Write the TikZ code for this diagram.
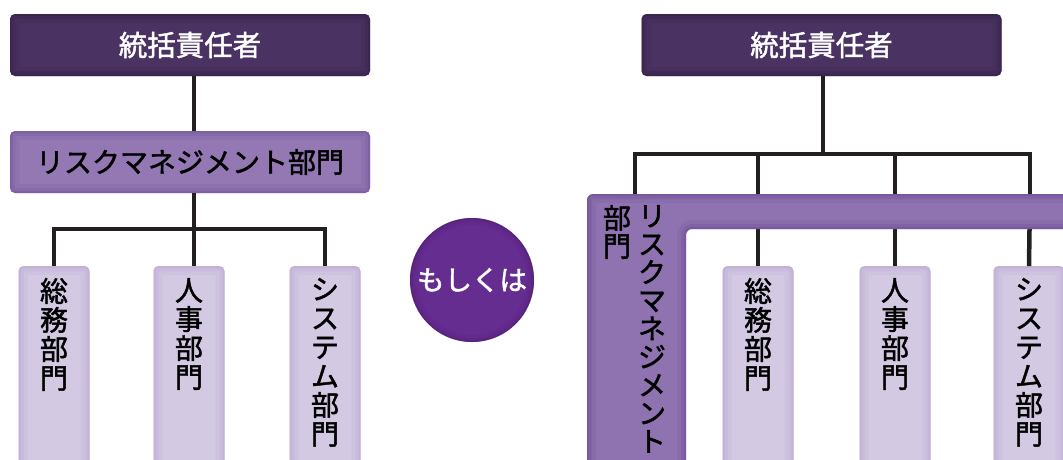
\documentclass[tikz,border=0pt]{standalone}
\usepackage{fontspec}
\newfontfamily\jp[FakeBold=1.6]{Noto Sans CJK JP}
\definecolor{topc}{HTML}{4A3262}
\definecolor{tope}{HTML}{2A1A3C}
\definecolor{midc}{HTML}{9378B4}
\definecolor{mide}{HTML}{684A91}
\definecolor{botc}{HTML}{D3C9E3}
\definecolor{bote}{HTML}{AE98CA}
\definecolor{Lc}{HTML}{8F73B1}
\definecolor{Le}{HTML}{5E3F88}
\definecolor{circc}{HTML}{662D91}
\definecolor{circe}{HTML}{4E1F72}
\definecolor{linec}{HTML}{231F20}
\begin{document}
\begin{tikzpicture}[x=1pt,y=-1pt,
  vig/.style={path picture={
    \foreach \w/\o in {18/0.12,10/0.18,4/0.25}{
      \draw[#1,opacity=\o,line width=\w pt] (path picture bounding box.north west) rectangle (path picture bounding box.south east);}}},
  vigc/.style={path picture={
    \foreach \w/\o in {14/0.15,7/0.2,3/0.25}{
      \draw[#1,opacity=\o,line width=\w pt] (path picture bounding box.center) circle[radius=62pt];}}},
  boxbase/.style={rectangle,rounded corners=5pt,inner sep=0pt,outer sep=0pt,draw=none},
  topbox/.style={boxbase,fill=topc,vig=tope,minimum width=360pt,minimum height=62pt,text=white,font=\jp\fontsize{28.5pt}{30pt}\selectfont},
  midbox/.style={boxbase,fill=midc,vig=mide,minimum width=360pt,minimum height=62pt,text=black,font=\jp\fontsize{28pt}{30pt}\selectfont},
  botbox/.style={boxbase,fill=botc,vig=bote,minimum width=71pt,minimum height=210pt},
  vtext/.style={inner sep=0pt,outer sep=0pt,align=center,anchor=north,text=black,font=\jp\fontsize{28pt}{29pt}\selectfont},
  vtextL/.style={vtext,font=\jp\fontsize{28pt}{28.2pt}\selectfont},
  conn/.style={draw=linec,line width=4.5pt}]
\useasboundingbox (0,0) rectangle (1063,459);
\fill[white] (0,0) rectangle (1063,459);

% ---------- left diagram ----------
\node[topbox] (t1) at (190,45) {統括責任者};
\node[midbox] (m1) at (190,162) {リスクマネジメント部門};
\node[botbox,anchor=north] (b1) at (54,266) {};
\node[botbox,anchor=north] (b2) at (189,266) {};
\node[botbox,anchor=north] (b3) at (325,266) {};
\node[vtext] (b1t) at (54,278) {総\\務\\部\\門};
\node[vtext] (b2t) at (189,278) {人\\事\\部\\門};
\node[vtext] (b3t) at (325,278) {シ\\ス\\テ\\ム\\部\\門};
\coordinate (jL) at (194,229);
\draw[conn] (t1.south -| jL) -- (m1.north -| jL);
\draw[conn] (m1.south -| jL) -- (jL);
\draw[conn] (b1.north) |- (jL) -| (b3.north);
\draw[conn] (jL) -- (b2.north -| jL);

% ---------- or circle ----------
\node[circle,fill=circc,vigc=circe,minimum size=124pt,inner sep=0pt,text=white,font=\jp\fontsize{27.5pt}{29pt}\selectfont] (or) at (472,280) {もしくは};

% ---------- right diagram ----------
\node[topbox] (t2) at (821.5,45) {統括責任者};
\coordinate (jR) at (823,154);
\coordinate (d1) at (635,194);
\coordinate (d4) at (1030,194);
\node[botbox,anchor=north] (b4) at (758,266) {};
\node[botbox,anchor=north] (b5) at (895,266) {};
\node[botbox,anchor=north] (b6) at (1029,266) {};
\draw[conn] (t2.south -| jR) -- (jR);
\draw[conn] (d1) |- (jR) -| (d4);
\draw[conn] (jR -| b4.north) -- (b4.north);
\draw[conn] (jR -| b5.north) -- (b5.north);
\draw[conn] (d4) -- (b6.north);

% L-shaped risk management block
\def\Lpath{(587,480) -- (587,194) -- (1080,194) -- (1080,229) -- (686,229) -- (686,480) -- cycle}
\fill[Lc,rounded corners=6pt] \Lpath;
\begin{scope}
  \clip[rounded corners=6pt] \Lpath;
  \foreach \w/\o in {18/0.12,10/0.18,4/0.25}{
    \draw[Le,opacity=\o,line width=\w pt,rounded corners=6pt] \Lpath;}
\end{scope}
\node[vtextL] (Lt1) at (652,205) {リ\\ス\\ク\\マ\\ネ\\ジ\\メ\\ン\\ト};
\node[vtextL] (Lt2) at (617,205) {部\\門};

\node[vtext] (b4t) at (758,278) {総\\務\\部\\門};
\node[vtext] (b5t) at (895,278) {人\\事\\部\\門};
\node[vtext] (b6t) at (1029,278) {シ\\ス\\テ\\ム\\部\\門};
\end{tikzpicture}
\end{document}
